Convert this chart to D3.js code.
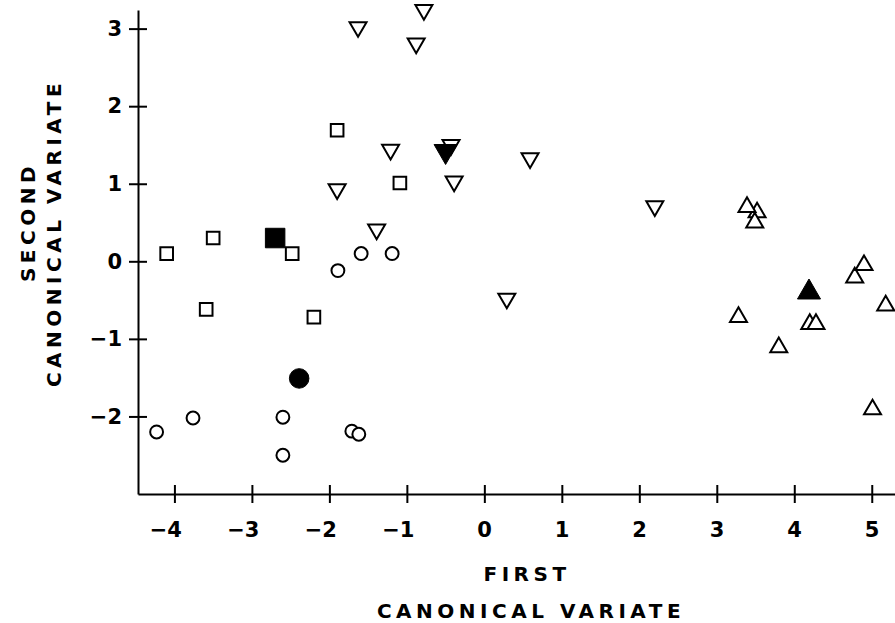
<!DOCTYPE html>
<html>
<head>
<meta charset="utf-8">
<script src="https://cdn.jsdelivr.net/npm/d3@7"></script>
<style>
  body { margin: 0; background: #fff; }
  svg text { font-family: "DejaVu Sans", sans-serif; font-weight: bold; fill: #000; }
</style>
</head>
<body>
<div id="chart"></div>
<script>
const xTicks = [-4, -3, -2, -1, 0, 1, 2, 3, 4, 5];
const yTicks = [-2, -1, 0, 1, 2, 3];

// open symbols, listed back to front
const circlePts = [
  [-1.89, -0.12], [-1.59, 0.10], [-1.19, 0.10], [-4.23, -2.20], [-3.76, -2.02],
  [-2.60, -2.01], [-1.71, -2.19], [-1.62, -2.23], [-2.60, -2.50]
];
const squarePts = [
  [-1.90, 1.69], [-1.09, 1.01], [-4.10, 0.10], [-3.50, 0.30], [-2.48, 0.10],
  [-3.59, -0.62], [-2.20, -0.72]
];
const downPts = [
  [-1.63, 3.02], [-0.78, 3.24], [-0.88, 2.81], [-1.21, 1.44], [-1.90, 0.93],
  [-1.39, 0.41], [-0.39, 1.03], [0.59, 1.33], [2.20, 0.71], [0.29, -0.48],
  [-0.43, 1.50]
];
const upPts = [
  [3.52, 0.63], [3.39, 0.70], [3.49, 0.50], [4.78, -0.21], [4.90, -0.05],
  [5.18, -0.57], [3.28, -0.72], [4.20, -0.81], [4.28, -0.81], [3.80, -1.11],
  [5.01, -1.91]
];

// group means (filled)
const circleMean = [-2.39, -1.51];
const squareMean = [-2.70, 0.30];
const downMean = [-0.50, 1.42];
const upMean = [4.19, -0.40];

const margin = { top: 10, right: 0, bottom: 129, left: 138 },
  width = 895 - margin.left - margin.right,
  height = 623 - margin.top - margin.bottom;

const svg = d3
  .select("#chart")
  .append("svg")
  .attr("width", width + margin.left + margin.right)
  .attr("height", height + margin.top + margin.bottom)
  .append("g")
  .attr("transform", "translate(" + margin.left + "," + margin.top + ")");

var x = d3.scaleLinear().domain([-4.47, 5.3]).range([0, width]);
var y = d3.scaleLinear().domain([-3, 3.24]).range([height, 0]);

var fmt = function (d) {
  return d < 0 ? "\u2212" + Math.abs(d) : String(d);
};

var xAxis = svg
  .append("g")
  .attr("transform", "translate(0," + height + ")")
  .call(d3.axisBottom(x).tickValues(xTicks).tickSize(9).tickPadding(19).tickSizeOuter(0).tickFormat(fmt));
xAxis.selectAll("line").attr("y1", -9).attr("stroke-width", 2);
xAxis.selectAll("text").attr("font-size", 21).attr("text-anchor", "end").attr("x", 7);

var yAxis = svg
  .append("g")
  .call(d3.axisLeft(y).tickValues(yTicks).tickSize(9).tickPadding(7).tickSizeOuter(0).tickFormat(fmt));
yAxis.selectAll("line").attr("x1", 9).attr("stroke-width", 2);
yAxis.selectAll("text").attr("font-size", 21);

svg.selectAll(".domain").attr("stroke-width", 2);

// axis titles
var titles = svg.append("g").attr("font-size", 20).attr("letter-spacing", 4.5);

titles.append("text").attr("text-anchor", "middle")
  .attr("x", 527 - margin.left).attr("y", 581 - margin.top).text("FIRST");
titles.append("text").attr("text-anchor", "middle")
  .attr("x", 531 - margin.left).attr("y", 618 - margin.top).text("CANONICAL VARIATE");

titles.append("text").attr("text-anchor", "middle")
  .attr("transform", "translate(" + (35 - margin.left) + "," + (222 - margin.top) + ") rotate(-90)")
  .text("SECOND");
titles.append("text").attr("text-anchor", "middle")
  .attr("transform", "translate(" + (61 - margin.left) + "," + (233 - margin.top) + ") rotate(-90)")
  .text("CANONICAL VARIATE");

// symbols
var shape = function (type, size) {
  return d3.symbol().type(type).size(size)();
};

var drawGroup = function (pts, type, size, rot, filled) {
  svg
    .append("g")
    .selectAll("path")
    .data(pts)
    .enter()
    .append("path")
    .attr("d", shape(type, size))
    .attr("transform", function (d) {
      return "translate(" + x(d[0]) + "," + y(d[1]) + ") rotate(" + rot + ")";
    })
    .attr("fill", filled ? "#000" : "#fff")
    .attr("stroke", "#000")
    .attr("stroke-width", filled ? 1 : 2);
};

drawGroup(circlePts, d3.symbolCircle, 130, 0, false);
drawGroup(squarePts, d3.symbolSquare, 160, 0, false);
drawGroup(downPts, d3.symbolTriangle, 125, 180, false);
drawGroup(upPts, d3.symbolTriangle, 125, 0, false);

drawGroup([circleMean], d3.symbolCircle, 300, 0, true);
drawGroup([squareMean], d3.symbolSquare, 380, 0, true);
drawGroup([downMean], d3.symbolTriangle, 230, 180, true);
drawGroup([upMean], d3.symbolTriangle, 230, 0, true);
</script>
</body>
</html>
